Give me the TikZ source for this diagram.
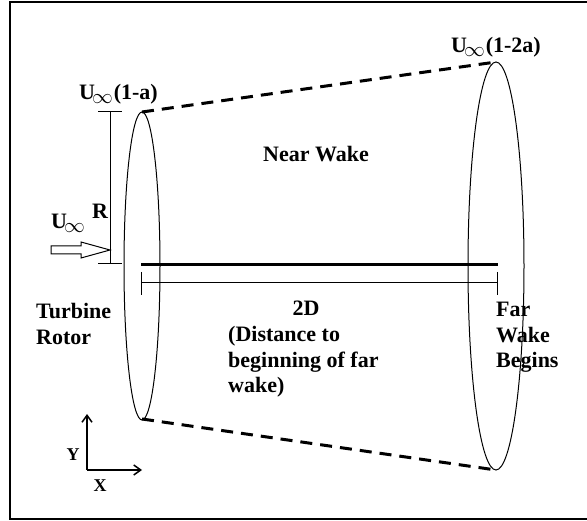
\documentclass[tikz,border=0pt]{standalone}
\usepackage{fontspec}
\setmainfont{Liberation Serif}
\usetikzlibrary{arrows.meta}
\begin{document}
\begin{tikzpicture}[x=1pt,y=-1pt,
  lbl/.style={font=\fontsize{22}{26}\selectfont\bfseries, inner sep=0pt, anchor=base west},
  lblc/.style={lbl, anchor=base},
  small/.style={font=\fontsize{18}{20}\selectfont\bfseries, inner sep=0pt, anchor=base},
  rotor/.style={draw=black, line width=1pt},
  wakeline/.style={draw=black, line width=3pt, dash pattern=on 12pt off 8pt},
  thin/.style={draw=black, line width=1pt},
  axis/.style={draw=black, line width=1.5pt, -{Straight Barb[length=7pt,width=10pt,line width=1.5pt]}}]
\useasboundingbox (0,0) rectangle (587,521);
\fill[white] (0,0) rectangle (587,521);
% frame (right side cropped)
\draw[line width=1.8pt] (587,2) -- (10,2) -- (10,519) -- (587,519);
% coordinates
\coordinate (lt) at (142,112);
\coordinate (lb) at (142,419);
\coordinate (rt) at (496,62);
\coordinate (rb) at (496,470);
% rotor ellipses
\draw[rotor] (142,266) ellipse [x radius=18, y radius=154];
\draw[rotor] (496,266) ellipse [x radius=28, y radius=204];
% dashed wake boundaries
\draw[wakeline] (lt) -- (rt);
\draw[wakeline] (lb) -- (rb);
% thick centre bar
\coordinate (b1) at (141,265);
\coordinate (b2) at (498,265);
\draw[line width=3pt] (b1) -- (b2);
% 2D dimension line
\coordinate (d1) at (141,283);
\coordinate (d2) at (497,283);
\draw[thin] (d1) -- (d2);
\draw[thin] (141,272) -- (141,295);
\draw[thin] (497,272) -- (497,295);
% R dimension
\coordinate (r1) at (110,112);
\coordinate (r2) at (110,264);
\draw[thin] (r1) -- (r2);
\draw[thin] (98,112) -- (122,112);
\draw[thin] (98,264) -- (122,264);
\node[lbl] (R) at (92,219) {R};
% hollow inflow arrow
\draw[thin, fill=white] (51,246) -- (81,246) -- (81,242) -- (110,250) -- (81,258) -- (81,254) -- (51,254) -- cycle;
% labels
\node[lbl] (uin) at (51,229) {U\hspace{-3pt}\raisebox{-4pt}{$\infty$}};
\node[lbl] (ua) at (79,100) {U\hspace{-3pt}\raisebox{-4pt}{$\infty$}\hspace{1pt}(1-a)};
\node[lbl] (u2a) at (451,53) {U\hspace{-3pt}\raisebox{-4pt}{$\infty$}\hspace{1pt}(1-2a)};
\node[lbl] (nw) at (263,162) {Near Wake};
\node[lbl] (tr1) at (36,319) {Turbine};
\node[lbl] (tr2) at (36,345) {Rotor};
\node[lblc] (twod) at (306,316) {2D};
\node[lbl] (ds1) at (228,342) {(Distance to};
\node[lbl] (ds2) at (228,368) {beginning of far};
\node[lbl] (ds3) at (228,393) {wake)};
\node[lbl] (fw1) at (496,317) {Far};
\node[lbl] (fw2) at (496,343) {Wake};
\node[lbl] (fw3) at (496,368) {Begins};
% axes
\coordinate (o) at (87,470);
\coordinate (ay) at (87,414);
\coordinate (ax) at (142,470);
\draw[axis] (o) -- (ay);
\draw[axis] (o) -- (ax);
\node[small] (Y) at (73,461) {Y};
\node[small] (X) at (100,492) {X};
\end{tikzpicture}
\end{document}
